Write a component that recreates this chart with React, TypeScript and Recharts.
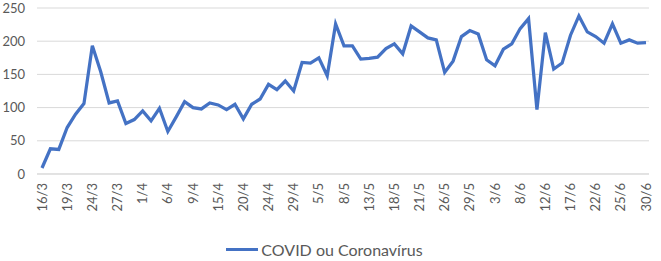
import React from 'react';
import { LineChart, Line, XAxis, YAxis, CartesianGrid, Legend } from 'recharts';

// business days (Brazil) from 16/3 to 30/6
const dates: string[] = [
  '16/3', '17/3', '18/3', '19/3', '20/3', '23/3', '24/3', '25/3', '26/3', '27/3', '30/3', '31/3',
  '1/4', '2/4', '3/4', '6/4', '7/4', '8/4', '9/4', '13/4', '14/4', '15/4', '16/4', '17/4',
  '20/4', '22/4', '23/4', '24/4', '27/4', '28/4', '29/4', '30/4',
  '4/5', '5/5', '6/5', '7/5', '8/5', '11/5', '12/5', '13/5', '14/5', '15/5', '18/5', '19/5',
  '20/5', '21/5', '22/5', '25/5', '26/5', '27/5', '28/5', '29/5',
  '1/6', '2/6', '3/6', '4/6', '5/6', '8/6', '9/6', '10/6', '12/6', '15/6', '16/6', '17/6',
  '18/6', '19/6', '22/6', '23/6', '24/6', '25/6', '26/6', '29/6', '30/6',
];

const covid: number[] = [
  9, 38, 37, 70, 90, 106, 193, 154, 107, 110,
  76, 82, 95, 80, 99, 64, 86, 109, 100, 98,
  107, 104, 97, 105, 83, 105, 113, 135, 127, 140,
  125, 168, 167, 175, 148, 226, 193, 193, 173, 174,
  176, 189, 196, 181, 223, 214, 205, 202, 153, 170,
  207, 216, 211, 172, 163, 188, 196, 219, 234, 97,
  213, 158, 167, 209, 238, 214, 207, 197, 226, 197,
  202, 197, 198,
];

const yTicks = [0, 50, 100, 150, 200, 250];

const seriesName = 'COVID ou Coronavírus';

const data = dates.map((d, i) => ({ date: d, value: covid[i] }));

const FONT = 'Lato, sans-serif';
const GRAY = '#595959';
const BLUE = '#4472C4';

const DateTick = (props: any) => {
  const { x, y, payload } = props;
  return (
    <g transform={`translate(${x},${y})`}>
      <text
        transform="rotate(-90)"
        textAnchor="end"
        dy="0.35em"
        fill={GRAY}
        fontSize={13}
        fontFamily={FONT}
      >
        {payload.value}
      </text>
    </g>
  );
};

const LegendContent = () => (
  <div
    style={{
      height: 47,
      display: 'flex',
      justifyContent: 'center',
      alignItems: 'center',
      paddingTop: 24,
      boxSizing: 'border-box',
      fontFamily: FONT,
      fontSize: 16,
      color: GRAY,
    }}
  >
    <span style={{ display: 'inline-block', width: 32, height: 3, background: BLUE, marginRight: 3 }} />
    <span>{seriesName}</span>
  </div>
);

export default function App() {
  return (
    <div style={{ position: 'absolute', left: 0, top: 0, background: '#fff' }}>
      <LineChart width={661} height={261} data={data} margin={{ top: 8, right: 12, left: 0, bottom: 0 }}>
        <CartesianGrid vertical={false} stroke="#d9d9d9" />
        <XAxis
          dataKey="date"
          interval={2}
          height={40}
          tick={<DateTick />}
          tickLine={false}
          tickSize={0}
          tickMargin={9}
          axisLine={{ stroke: '#d9d9d9' }}
          padding={{ left: 5, right: 3 }}
        />
        <YAxis
          domain={[0, 250]}
          ticks={yTicks}
          width={37}
          axisLine={false}
          tickLine={false}
          tickSize={0}
          tickMargin={12}
          tick={{ fill: GRAY, fontSize: 13, fontFamily: FONT }}
        />
        <Legend verticalAlign="bottom" content={<LegendContent />} />
        <Line
          type="linear"
          dataKey="value"
          name={seriesName}
          stroke={BLUE}
          strokeWidth={3.25}
          dot={false}
          isAnimationActive={false}
        />
      </LineChart>
    </div>
  );
}
